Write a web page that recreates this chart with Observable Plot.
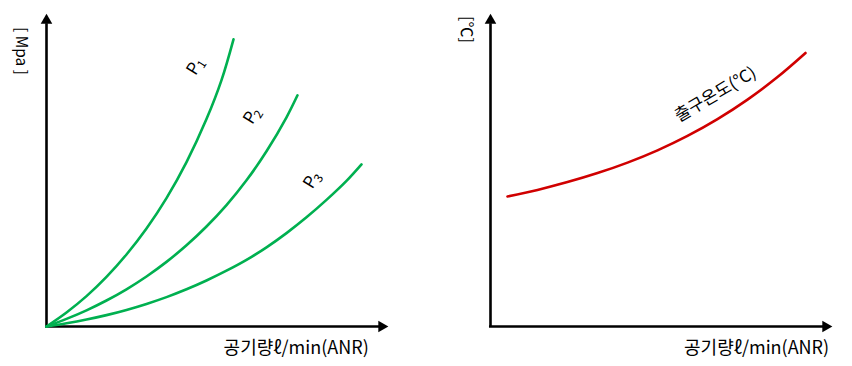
<!DOCTYPE html>
<html><head><meta charset="utf-8">
<script src="https://cdn.jsdelivr.net/npm/d3@7"></script>
<script src="https://cdn.jsdelivr.net/npm/@observablehq/plot@0.6"></script>
<style>
body{margin:0;background:#fff;}
#wrap{display:flex;width:852px;height:366px;}
</style></head>
<body><div id="wrap"></div>
<script>
// Left panel: pressure curves (air flow vs pressure), arbitrary units 0..100
const seriesNames = ["P1", "P2", "P3"];
const subscripts = ["1", "2", "3"];
const flowP1 = [0, 5.85, 11.70, 17.54, 23.39, 29.24, 35.09, 40.94, 46.78, 51.17, 54.68];
const pressP1 = [0, 4.49, 9.74, 15.90, 23.08, 31.41, 41.15, 52.69, 66.47, 78.97, 92.05];
const flowP2 = [0, 5.85, 11.70, 17.54, 23.39, 29.24, 35.09, 40.94, 46.78, 52.63, 58.48, 64.33, 70.18, 73.39];
const pressP2 = [0, 2.44, 5.19, 8.33, 11.92, 16.03, 20.71, 26.03, 32.05, 38.91, 46.86, 56.15, 67.05, 74.10];
const flowP3 = [0, 5.85, 11.70, 17.54, 23.39, 29.24, 35.09, 40.94, 46.78, 52.63, 58.48, 64.33, 70.18, 76.02, 81.87, 87.72, 92.11];
const pressP3 = [0, 1.03, 2.24, 3.65, 5.32, 7.24, 9.42, 11.92, 14.74, 17.88, 21.35, 25.38, 29.94, 35.0, 40.58, 46.67, 51.96];
// Right panel: outlet temperature
const flowT = [4.97, 13.74, 22.51, 31.29, 40.06, 48.83, 57.60, 66.37, 75.15, 83.92, 92.11];
const tempT = [41.67, 43.78, 46.28, 49.17, 52.53, 56.47, 61.09, 66.47, 72.72, 79.94, 87.66];

const xLabel = "공기량ℓ/min(ANR)";
const yLabelLeft = "[ Mpa ]";
const yLabelRight = "[℃]";
const tempLabel = "출구온도(℃)";

const FONT = "'Noto Sans CJK KR', 'Noto Sans', sans-serif";
const green = "#00b050";
const red = "#d00000";

const pressTable = [];
[[flowP1, pressP1], [flowP2, pressP2], [flowP3, pressP3]].forEach(([xs, ys], i) => {
  xs.forEach((x, j) => pressTable.push({series: seriesNames[i], flow: x, value: ys[j]}));
});
const tempTable = flowT.map((x, j) => ({flow: x, value: tempT[j]}));

function axesMarks() {
  return [
    Plot.ruleX([0], {y1: 0, y2: 97, stroke: "black", strokeWidth: 2.6}),
    Plot.ruleY([0], {x1: -0.3, x2: 97.5, stroke: "black", strokeWidth: 2.6}),
    Plot.dot([{x: 0, y: 98.1}], {x: "x", y: "y", symbol: "triangle", r: 4.3, fill: "black", stroke: null}),
    Plot.dot([{x: 98.0, y: 0}], {x: "x", y: "y", symbol: "triangle", r: 4.3, fill: "black", stroke: null, rotate: 90})
  ];
}

const common = {
  width: 426, height: 366,
  marginTop: 14, marginBottom: 40,
  x: {domain: [0, 100], axis: null},
  y: {domain: [0, 100], axis: null},
  style: {fontFamily: FONT, background: "white", overflow: "visible"}
};

const left = Plot.plot({
  ...common,
  marginLeft: 46, marginRight: 38,
  marks: [
    ...axesMarks(),
    Plot.line(pressTable, {x: "flow", y: "value", z: "series", stroke: green, strokeWidth: 2.6, curve: "catmull-rom"}),
    Plot.text(seriesNames, {x: [43.07, 59.65, 77.19], y: [82.6, 66.9, 46.25], text: () => "P", rotate: -58, fontSize: 17, fill: "black"}),
    Plot.text(subscripts, {x: [45.47, 62.05, 79.59], y: [83.97, 67.95, 47.44], text: d => d, rotate: -58, fontSize: 12, fill: "black"}),
    Plot.text([yLabelLeft], {x: [-7.6], y: [88.3], text: d => d, rotate: 90, fontSize: 15.5, fill: "black"}),
    Plot.text([xLabel], {x: [73.0], y: [-7.1], text: d => d, fontSize: 18, fill: "black"})
  ]
});

const right = Plot.plot({
  ...common,
  marginLeft: 64, marginRight: 20,
  marks: [
    ...axesMarks(),
    Plot.line(tempTable, {x: "flow", y: "value", stroke: red, strokeWidth: 2.6, curve: "catmull-rom"}),
    Plot.text([tempLabel], {x: [65.8], y: [74.4], text: d => d, rotate: -30.5, fontSize: 17, fill: "black"}),
    Plot.text([yLabelRight], {x: [-7.0], y: [95.2], text: d => d, rotate: 90, fontSize: 16, fill: "black"}),
    Plot.text([xLabel], {x: [77.8], y: [-7.1], text: d => d, fontSize: 18, fill: "black"})
  ]
});

document.getElementById("wrap").append(left, right);
</script></body></html>
